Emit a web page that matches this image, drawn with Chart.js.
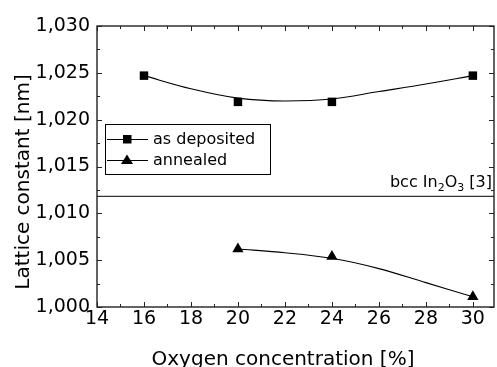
<!DOCTYPE html>
<html>
<head>
<meta charset="utf-8">
<script src="https://cdn.jsdelivr.net/npm/chart.js@4/dist/chart.umd.min.js"></script>
<style>
    body { margin: 0; background: #fff; }
</style>
</head>
<body>
<canvas id="canvasLattice" width="497" height="367"></canvas>
<script>
// measured points
const depositedX = [16, 20, 24, 30];
const depositedY = [1.0247, 1.0219, 1.0219, 1.0247];
const annealedX = [20, 24, 30];
const annealedY = [1.0062, 1.0054, 1.0011];

// fitted curves
const depositedFitX = [16, 18, 20, 22, 24, 26, 28, 30];
const depositedFitY = [1.0247, 1.0233, 1.0223, 1.0220, 1.0222, 1.0230, 1.0238, 1.0247];
const annealedFitX = [20, 22, 24, 26, 28, 30];
const annealedFitY = [1.0062, 1.0058, 1.0052, 1.0041, 1.0026, 1.0011];

// bcc In2O3 reference value
const referenceX = [14, 30.9];
const referenceY = [1.0118, 1.0118];

const legendLabels = ['as deposited', 'annealed'];
const xTitle = 'Oxygen concentration [%]';
const yTitle = 'Lattice constant [nm]';

const FONT = '"DejaVu Sans", Arial, sans-serif';

const toPoints = (xs, ys) => xs.map((x, i) => ({ x: x, y: ys[i] }));

const frame = {
    id: 'frame',
    afterDatasetsDraw(chart) {
        const ctx = chart.ctx;
        const a = chart.chartArea;
        const xs = chart.scales.x;
        const ys = chart.scales.y;
        ctx.save();
        ctx.strokeStyle = '#222';
        ctx.lineWidth = 1.4;
        ctx.strokeRect(a.left, a.top, a.right - a.left, a.bottom - a.top);
        ctx.lineWidth = 1;
        ctx.beginPath();
        for (let v = 14; v <= 30.9; v++) {
            const px = Math.round(xs.getPixelForValue(v)) + 0.5;
            const len = v % 2 === 0 ? 5 : 3;
            ctx.moveTo(px, a.bottom); ctx.lineTo(px, a.bottom - len);
            ctx.moveTo(px, a.top); ctx.lineTo(px, a.top + len);
        }
        for (let i = 0; i <= 12; i++) {
            const v = 1.0 + i * 0.0025;
            const py = Math.round(ys.getPixelForValue(v)) + 0.5;
            const len = i % 2 === 0 ? 5 : 3;
            ctx.moveTo(a.left, py); ctx.lineTo(a.left + len, py);
            ctx.moveTo(a.right, py); ctx.lineTo(a.right - len, py);
        }
        ctx.stroke();
        ctx.restore();
    },
    afterDraw(chart) {
        const ctx = chart.ctx;
        ctx.save();
        ctx.fillStyle = '#000';

        // axis titles
        ctx.font = '20px ' + FONT;
        ctx.textAlign = 'center';
        ctx.textBaseline = 'alphabetic';
        ctx.fillText(xTitle, 283, 365);
        ctx.save();
        ctx.translate(28.5, 182);
        ctx.rotate(-Math.PI / 2);
        ctx.fillText(yTitle, 0, 0);
        ctx.restore();

        // legend
        ctx.strokeStyle = '#000';
        ctx.lineWidth = 1;
        ctx.strokeRect(105.5, 124.5, 165, 50);
        ctx.font = '16px ' + FONT;
        ctx.textAlign = 'left';
        ctx.textBaseline = 'middle';
        const rows = [139, 160];
        rows.forEach((y, i) => {
            ctx.beginPath();
            ctx.moveTo(107, y + 0.5);
            ctx.lineTo(148, y + 0.5);
            ctx.stroke();
            ctx.beginPath();
            if (i === 0) {
                ctx.rect(123, y - 4, 8.5, 8.5);
            } else {
                ctx.moveTo(127, y - 5.5);
                ctx.lineTo(133, y + 4);
                ctx.lineTo(121, y + 4);
                ctx.closePath();
            }
            ctx.fill();
            ctx.fillText(legendLabels[i], 153, y + 1);
        });

        // bcc In2O3 [3] with subscripts
        const parts = [
            ['bcc In', 16, 0], ['2', 11, 4], ['O', 16, 0], ['3', 11, 4], [' [3]', 16, 0]
        ];
        ctx.textBaseline = 'alphabetic';
        let total = 0;
        parts.forEach(p => {
            ctx.font = p[1] + 'px ' + FONT;
            total += ctx.measureText(p[0]).width;
        });
        let x = 492 - total;
        parts.forEach(p => {
            ctx.font = p[1] + 'px ' + FONT;
            ctx.fillText(p[0], x, 187 + p[2]);
            x += ctx.measureText(p[0]).width;
        });
        ctx.restore();
    }
};

const ctx = document.getElementById('canvasLattice').getContext('2d');

const chart = new Chart(ctx, {
    type: 'scatter',
    data: {
        datasets: [
            {
                data: toPoints(referenceX, referenceY),
                showLine: true,
                borderColor: '#333',
                borderWidth: 1.3,
                pointRadius: 0
            },
            {
                data: toPoints(depositedFitX, depositedFitY),
                showLine: true,
                borderColor: '#000',
                borderWidth: 1.1,
                cubicInterpolationMode: 'monotone',
                pointRadius: 0
            },
            {
                data: toPoints(annealedFitX, annealedFitY),
                showLine: true,
                borderColor: '#000',
                borderWidth: 1.1,
                cubicInterpolationMode: 'monotone',
                pointRadius: 0
            },
            {
                label: legendLabels[0],
                data: toPoints(depositedX, depositedY),
                pointStyle: 'rect',
                pointRadius: 6,
                backgroundColor: '#000',
                borderColor: '#000',
                borderWidth: 0
            },
            {
                label: legendLabels[1],
                data: toPoints(annealedX, annealedY),
                pointStyle: 'triangle',
                pointRadius: 6.5,
                backgroundColor: '#000',
                borderColor: '#000',
                borderWidth: 0
            }
        ]
    },
    options: {
        responsive: false,
        animation: false,
        layout: { autoPadding: false, padding: { top: 26, right: 3, left: 0, bottom: 0 } },
        plugins: {
            legend: { display: false },
            tooltip: { enabled: false }
        },
        scales: {
            x: {
                type: 'linear',
                min: 14,
                max: 30.9,
                grid: { display: false, drawTicks: false },
                border: { display: false },
                ticks: {
                    stepSize: 2,
                    includeBounds: false,
                    autoSkip: false,
                    maxRotation: 0,
                    padding: 1,
                    color: '#000',
                    font: { family: FONT, size: 19 },
                    callback: v => (v % 2 === 0 ? String(v) : '')
                },
                afterFit: scale => {
                    scale.height = 60;
                    scale.paddingLeft = 0;
                    scale.paddingRight = 0;
                }
            },
            y: {
                min: 1.0,
                max: 1.03,
                grid: { display: false, drawTicks: false },
                border: { display: false },
                ticks: {
                    stepSize: 0.005,
                    padding: 7,
                    color: '#000',
                    font: { family: FONT, size: 19 },
                    callback: v => v.toFixed(3).replace('.', ',')
                },
                afterFit: scale => {
                    scale.width = 97;
                    scale.paddingTop = 0;
                    scale.paddingBottom = 0;
                }
            }
        }
    },
    plugins: [frame]
});
</script>
</body>
</html>
